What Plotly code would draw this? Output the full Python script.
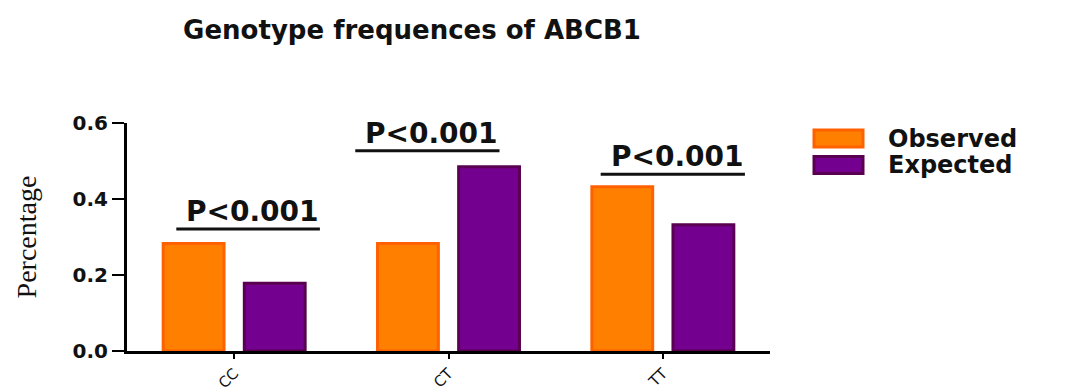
import plotly.graph_objects as go

# ---- data ----
genotypes = ["CC", "CT", "TT"]
observed = [0.283, 0.283, 0.432]
expected = [0.178, 0.485, 0.332]
p_labels = ["P<0.001", "P<0.001", "P<0.001"]
p_line_level = [0.321, 0.527, 0.465]
y_ticks = [0.0, 0.2, 0.4, 0.6]
y_tick_text = ["0.0", "0.2", "0.4", "0.6"]

# ---- layout constants ----
OFF = 8  # default page body margin
W, H = 1084 - OFF, 391 - OFF
bracket_left = [-0.27, -0.435, -0.29]
bracket_right = [0.40, 0.238, 0.383]
BOLD = "DejaVu Sans"

fig = go.Figure()
fig.add_trace(go.Bar(
    x=genotypes, y=observed, name="Observed",
    marker=dict(color="#FF8000", line=dict(color="#FF6000", width=3)),
))
fig.add_trace(go.Bar(
    x=genotypes, y=expected, name="Expected",
    marker=dict(color="#74008F", line=dict(color="#5A0050", width=3)),
))

shapes = []
annotations = []
for i, g in enumerate(genotypes):
    x0 = i + bracket_left[i]
    x1 = i + bracket_right[i]
    shapes.append(dict(type="line", xref="x", yref="y", x0=x0, x1=x1,
                       y0=p_line_level[i], y1=p_line_level[i],
                       line=dict(color="#111111", width=3)))
    annotations.append(dict(x=(x0 + x1) / 2 + 0.02, y=p_line_level[i], xref="x", yref="y",
                            text="<b>%s</b>" % p_labels[i], showarrow=False,
                            yanchor="bottom", yshift=-1,
                            font=dict(family=BOLD, size=28, color="#111111")))

# manual legend (large swatches as in the reference)
legend_items = [("Observed", "#FF8000", "#FF6000"), ("Expected", "#74008F", "#5A0050")]
for k, (name, fill, edge) in enumerate(legend_items):
    top = 130 + k * 26.5
    shapes.append(dict(type="rect", xref="paper", yref="paper",
                       x0=(814 - 127) / 643, x1=(863 - 127) / 643,
                       y0=(351 - top - 17) / 228, y1=(351 - top) / 228,
                       fillcolor=fill, line=dict(color=edge, width=3)))
    annotations.append(dict(xref="paper", yref="paper", x=(886 - 127) / 643,
                            y=(351 - top - 8.5) / 228, xanchor="left", yanchor="middle",
                            text="<b>%s</b>" % name, showarrow=False,
                            font=dict(family=BOLD, size=24, color="#111111")))

fig.update_layout(
    width=W, height=H,
    margin=dict(l=127 - OFF, r=314, t=123 - OFF, b=40, autoexpand=False),
    paper_bgcolor="white", plot_bgcolor="white",
    barmode="group", bargap=0.243, bargroupgap=0.25,
    showlegend=False,
    title=dict(text="<b>Genotype frequences of ABCB1</b>", x=(412 - OFF) / W, xanchor="center",
               y=1 - (30 - OFF) / H, yanchor="middle",
               font=dict(family=BOLD, size=26, color="#111111")),
    shapes=shapes, annotations=annotations,
    xaxis=dict(type="category", range=[-0.5, 2.5], showline=True, linecolor="black",
               linewidth=2.5, ticks="outside", ticklen=5, tickwidth=2, tickcolor="black",
               tickangle=-45, showgrid=False, zeroline=False,
               tickfont=dict(family=BOLD, size=15, color="#111111")),
    yaxis=dict(range=[0, 0.6], showline=True, linecolor="black", linewidth=3,
               ticks="outside", ticklen=12, tickwidth=2, tickcolor="black",
               tickvals=y_ticks, ticktext=["<b>%s</b>" % t for t in y_tick_text],
               showgrid=False, zeroline=False,
               tickfont=dict(family=BOLD, size=20, color="#111111"),
               title=dict(text="Percentage", standoff=28,
                          font=dict(family="Liberation Serif", size=28, color="#111111"))),
)

fig.write_html("out.html")
